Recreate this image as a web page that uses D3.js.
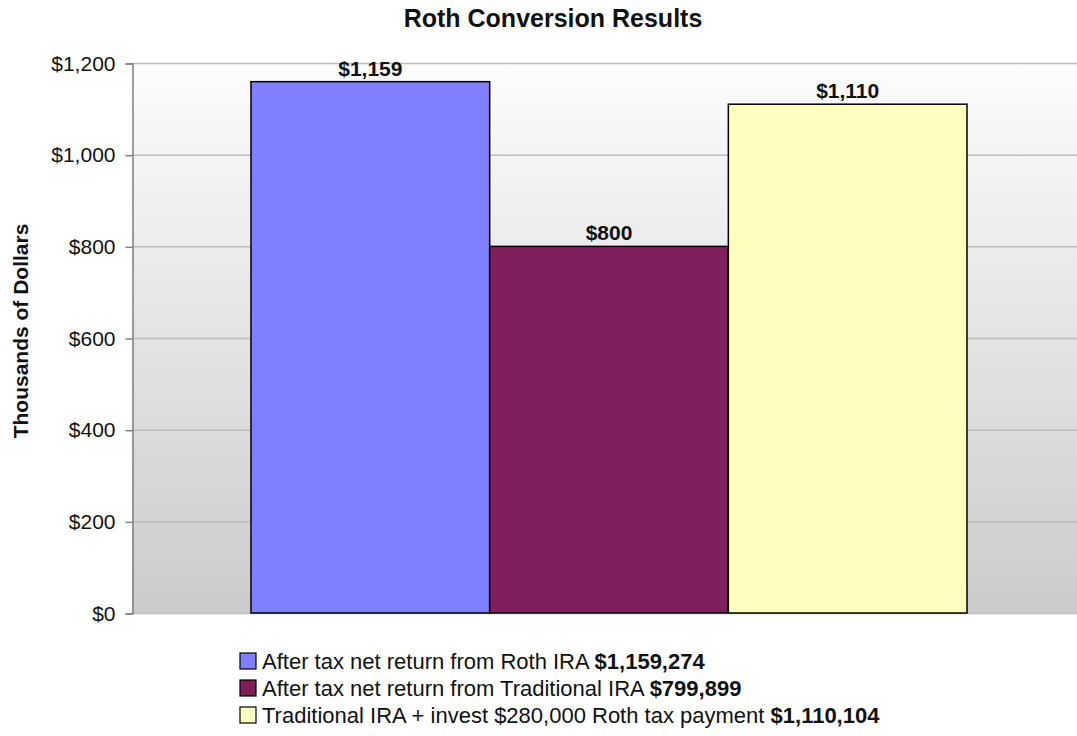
<!DOCTYPE html>
<html>
<head>
<meta charset="utf-8">
<script src="https://cdn.jsdelivr.net/npm/d3@7"></script>
<style>
  body { margin: 0; background: #fff; }
  text { font-family: "Liberation Sans", Arial, sans-serif; }
</style>
</head>
<body>
<div id="chart"></div>
<script>
// Chart data
const seriesNames = [
  "After tax net return from Roth IRA",
  "After tax net return from Traditional IRA",
  "Traditional IRA + invest $280,000 Roth tax payment"
];
const seriesValues = [1159274, 799899, 1110104];
const seriesColors = ["#8080ff", "#7f1f5c", "#ffffc0"];
const yTicks = [0, 200, 400, 600, 800, 1000, 1200];

const w = 1077, h = 736;
const margin = { top: 63, right: -9, bottom: 123, left: 132 };

const svg = d3.select("#chart").append("svg")
  .attr("width", w)
  .attr("height", h);

// Background gradient of the plot area
const defs = svg.append("defs");
const grad = defs.append("linearGradient")
  .attr("id", "bg").attr("x1", 0).attr("y1", 0).attr("x2", 0).attr("y2", 1);
grad.append("stop").attr("offset", "0%").attr("stop-color", "#fcfcfc");
grad.append("stop").attr("offset", "100%").attr("stop-color", "#cbcbcb");

const x0 = d3.scaleBand()
  .domain(["Results"])
  .range([margin.left, w - margin.right])
  .paddingInner(0.1425)
  .paddingOuter(0.1425);

const x1 = d3.scaleBand()
  .domain(seriesNames)
  .range([0, x0.bandwidth()]);

const y = d3.scaleLinear()
  .domain([0, 1200])
  .range([h - margin.bottom, margin.top]);

svg.append("rect")
  .attr("x", margin.left)
  .attr("y", margin.top)
  .attr("width", w - margin.right - margin.left)
  .attr("height", y(0) - margin.top)
  .attr("fill", "url(#bg)");

// Gridlines
svg.append("g")
  .selectAll("line")
  .data(yTicks)
  .enter()
  .append("line")
  .attr("x1", margin.left)
  .attr("x2", w - margin.right)
  .attr("y1", d => y(d) + 0.5)
  .attr("y2", d => y(d) + 0.5)
  .attr("stroke", "#bdbdbd")
  .attr("stroke-width", 1.5);

// Y axis
const yAxis = d3.axisLeft(y)
  .tickValues(yTicks)
  .tickSize(7)
  .tickPadding(10)
  .tickFormat(d => "$" + d3.format(",")(d));

const gy = svg.append("g")
  .attr("transform", `translate(${margin.left + 0.5}, 0.5)`)
  .call(yAxis);
gy.select(".domain").attr("stroke", "#808080").attr("stroke-width", 1.5);
gy.selectAll(".tick line").attr("stroke", "#808080").attr("stroke-width", 1.5);
gy.selectAll(".tick text")
  .attr("fill", "#111")
  .style("font-size", "21px")
  .style("font-family", "'Liberation Sans', Arial, sans-serif");

// Bars
const g = svg.append("g")
  .attr("transform", `translate(${x0("Results")}, 0)`);

g.selectAll("rect")
  .data(seriesValues)
  .enter()
  .append("rect")
  .attr("x", (d, i) => x1(seriesNames[i]))
  .attr("y", d => y(d / 1000))
  .attr("width", x1.bandwidth())
  .attr("height", d => y(0) - y(d / 1000))
  .attr("fill", (d, i) => seriesColors[i])
  .attr("stroke", "#000")
  .attr("stroke-width", 1.5);

// Value labels
g.selectAll("text.val")
  .data(seriesValues)
  .enter()
  .append("text")
  .attr("class", "val")
  .attr("x", (d, i) => x1(seriesNames[i]) + x1.bandwidth() / 2)
  .attr("y", d => y(d / 1000) - 6)
  .attr("text-anchor", "middle")
  .style("font-size", "21px")
  .style("font-weight", "bold")
  .attr("fill", "#111")
  .text(d => "$" + d3.format(",")(Math.round(d / 1000)));

// Title
svg.append("text")
  .attr("x", 553)
  .attr("y", 27)
  .attr("text-anchor", "middle")
  .style("font-size", "25px")
  .style("font-weight", "bold")
  .attr("fill", "#111")
  .text("Roth Conversion Results");

// Y axis label
svg.append("text")
  .attr("transform", "rotate(-90)")
  .attr("x", -331)
  .attr("y", 28)
  .attr("text-anchor", "middle")
  .style("font-size", "21px")
  .style("font-weight", "bold")
  .attr("fill", "#111")
  .text("Thousands of Dollars");

// Legend
const legend = svg.append("g")
  .attr("transform", "translate(240, 653)");

legend.selectAll("g")
  .data(seriesNames)
  .enter()
  .append("g")
  .attr("transform", (d, i) => `translate(0, ${i * 27})`)
  .each(function (d, i) {
    const item = d3.select(this);
    item.append("rect")
      .attr("width", 16)
      .attr("height", 16)
      .attr("fill", seriesColors[i])
      .attr("stroke", "#000")
      .attr("stroke-width", 1.2);
    const t = item.append("text")
      .attr("x", 22)
      .attr("y", 16)
      .style("font-size", "22px")
      .attr("fill", "#111");
    t.append("tspan").text(d + " ");
    t.append("tspan").style("font-weight", "bold")
      .text("$" + d3.format(",")(seriesValues[i]));
  });
</script>
</body>
</html>
